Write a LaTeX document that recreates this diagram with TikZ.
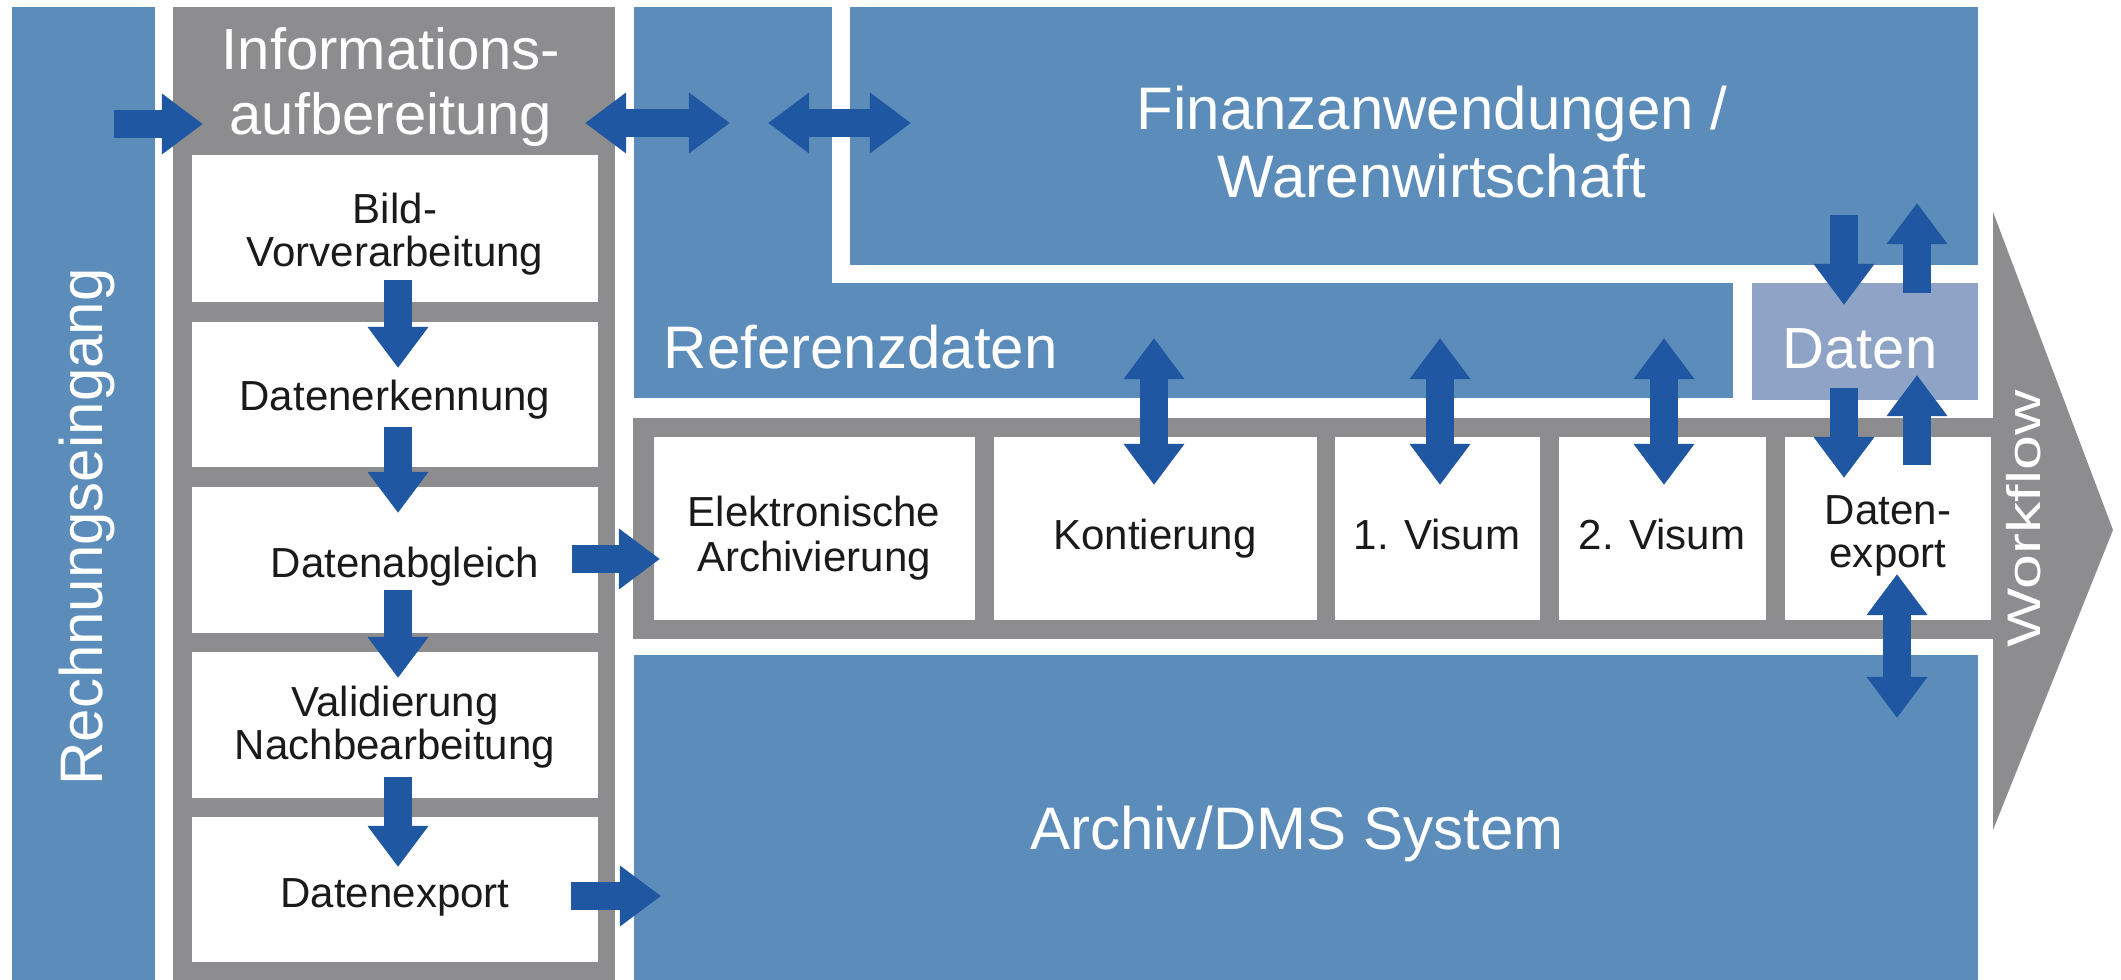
\documentclass[tikz,border=0pt]{standalone}
\usepackage{fontspec}
\setmainfont{Liberation Sans}
\usetikzlibrary{arrows.meta}
\definecolor{panelblue}{HTML}{5B8CBA}
\definecolor{arrowblue}{HTML}{1F57A3}
\definecolor{flowgray}{HTML}{8D8D8F}
\definecolor{datenfill}{HTML}{8EA3C5}
\definecolor{labeltext}{HTML}{1A1A1A}
\begin{document}
\begin{tikzpicture}[x=0.01cm,y=-0.01cm,
  panel/.style={fill=panelblue, inner sep=0, outer sep=0},
  grayarea/.style={fill=flowgray, inner sep=0, outer sep=0},
  whitebox/.style={fill=white, inner sep=0, outer sep=0},
  titletext/.style={text=white, inner sep=0, font=\fontsize{17.07}{18.2}\selectfont},
  boxtext/.style={text=labeltext, inner sep=0, font=\fontsize{11.95}{12.3}\selectfont},
  blockarrow/.style={draw=arrowblue, line width=0.28cm, -{Triangle[width=0.58cm,length=0.41cm]}},
  dblarrow/.style={draw=arrowblue, line width=0.28cm, {Triangle[width=0.58cm,length=0.41cm]}-{Triangle[width=0.58cm,length=0.41cm]}}
]
\useasboundingbox (0,0) rectangle (2121,980);

% ---- left bar: Rechnungseingang
\node[panel, minimum width=1.43cm, minimum height=9.73cm] (rbar) at (83.5,493.5) {};
\node[titletext, rotate=90, anchor=base] (trbar) at (102,527) {Rechnungseingang};

% ---- gray column: Informationsaufbereitung
\node[grayarea, minimum width=4.42cm, minimum height=9.73cm] (col) at (394,493.5) {};
\node[titletext, align=center, font=\fontsize{16.5}{18.5}\selectfont] (thead) at (391,87) {Informations-\\aufbereitung};

\node[whitebox, minimum width=4.06cm, minimum height=1.47cm] (b1) at (395,228.5) {};
\node[whitebox, minimum width=4.06cm, minimum height=1.45cm] (b2) at (395,394.5) {};
\node[whitebox, minimum width=4.06cm, minimum height=1.46cm] (b3) at (395,560) {};
\node[whitebox, minimum width=4.06cm, minimum height=1.46cm] (b4) at (395,725) {};
\node[whitebox, minimum width=4.06cm, minimum height=1.45cm] (b5) at (395,889.5) {};

\node[boxtext, align=center] (l1) at (395,234) {Bild-\\Vorverarbeitung};
\node[boxtext, anchor=base] (l2) at (395,411) {Datenerkennung};
\node[boxtext, anchor=base] (l3) at (405,578) {Datenabgleich};
\node[boxtext, align=center] (l4) at (395,727.5) {Validierung\\Nachbearbeitung};
\node[boxtext, anchor=base] (l5) at (395,908) {Datenexport};

% ---- Referenzdaten / Finanzanwendungen / Daten
\node[panel, minimum width=10.99cm, minimum height=3.91cm] (ref) at (1183.5,202.5) {};
\node[panel, draw=white, line width=0.18cm, minimum width=11.46cm, minimum height=2.76cm] (fin) at (1414,136) {};
\node[titletext, align=center, font=\fontsize{17.07}{19.3}\selectfont] (tfin) at (1432,142) {Finanzanwendungen /\\Warenwirtschaft};
\node[titletext, anchor=base west] (tref) at (663,369) {Referenzdaten};
\node[fill=datenfill, inner sep=0, outer sep=0, minimum width=2.26cm, minimum height=1.17cm] (daten) at (1865,341.5) {};
\node[titletext, anchor=base, font=\fontsize{16.5}{16.5}\selectfont] (tdaten) at (1860,369) {Daten};

% ---- workflow band and arrow
\node[grayarea, minimum width=13.62cm, minimum height=2.21cm] (band) at (1314,528.5) {};
\fill[flowgray] (1993,212) -- (2113,530) -- (1993,830) -- cycle;
\node[rotate=90, anchor=base, text=white, inner sep=0, font=\fontsize{13.4}{13.4}\selectfont] (tflow) at (2040,519) {\scalebox{1.33}[1]{Workflow}};

\node[whitebox, minimum width=3.21cm, minimum height=1.83cm] (w1) at (814.5,528.5) {};
\node[whitebox, minimum width=3.23cm, minimum height=1.83cm] (w2) at (1155.5,528.5) {};
\node[whitebox, minimum width=2.05cm, minimum height=1.83cm] (w3) at (1437.5,528.5) {};
\node[whitebox, minimum width=2.07cm, minimum height=1.83cm] (w4) at (1662.5,528.5) {};
\node[whitebox, minimum width=2.06cm, minimum height=1.83cm] (w5) at (1888,528.5) {};

\node[boxtext, align=center, font=\fontsize{11.95}{13}\selectfont] (lw1) at (814,538) {Elektronische\\Archivierung};
\node[boxtext, anchor=base] (lw2) at (1155,550) {Kontierung};
\node[boxtext, anchor=base] (lw3) at (1437,550) {1. Visum};
\node[boxtext, anchor=base] (lw4) at (1662,550) {2. Visum};
\node[boxtext, align=center] (lw5) at (1888,536) {Daten-\\export};

% ---- Archiv/DMS
\node[panel, minimum width=13.44cm, minimum height=3.25cm] (arch) at (1306,817.5) {};
\node[titletext, anchor=base] (tarch) at (1297,850) {Archiv/DMS System};

% ---- arrow end points
\coordinate (inS) at (114,124);   \coordinate (inE) at (203,124);
\coordinate (d1S) at (398,280);   \coordinate (d1E) at (398,368);
\coordinate (d2S) at (398,427);   \coordinate (d2E) at (398,513);
\coordinate (d3S) at (398,590);   \coordinate (d3E) at (398,678);
\coordinate (d4S) at (398,777);   \coordinate (d4E) at (398,867);
\coordinate (abS) at (572,559);   \coordinate (abE) at (660,559);
\coordinate (exS) at (571,896);   \coordinate (exE) at (661,896);
\coordinate (t1A) at (585,123);   \coordinate (t1B) at (730,123);
\coordinate (t2A) at (768,123);   \coordinate (t2B) at (911,123);
\coordinate (kA) at (1154,338);   \coordinate (kB) at (1154,485);
\coordinate (v1A) at (1440,338);  \coordinate (v1B) at (1440,485);
\coordinate (v2A) at (1664,338);  \coordinate (v2B) at (1664,485);
\coordinate (fdS) at (1844,215);  \coordinate (fdE) at (1844,305);
\coordinate (fuS) at (1917,293);  \coordinate (fuE) at (1917,203);
\coordinate (ddS) at (1844,388);  \coordinate (ddE) at (1844,478);
\coordinate (duS) at (1917,465);  \coordinate (duE) at (1917,375);
\coordinate (xA) at (1897,574);   \coordinate (xB) at (1897,718);

\draw[blockarrow] (inS) -- (inE);
\draw[blockarrow] (d1S) -- (d1E);
\draw[blockarrow] (d2S) -- (d2E);
\draw[blockarrow] (d3S) -- (d3E);
\draw[blockarrow] (d4S) -- (d4E);
\draw[blockarrow] (abS) -- (abE);
\draw[blockarrow] (exS) -- (exE);
\draw[dblarrow] (t1A) -- (t1B);
\draw[dblarrow] (t2A) -- (t2B);
\draw[dblarrow] (kA) -- (kB);
\draw[dblarrow] (v1A) -- (v1B);
\draw[dblarrow] (v2A) -- (v2B);
\draw[blockarrow] (fdS) -- (fdE);
\draw[blockarrow] (fuS) -- (fuE);
\draw[blockarrow] (ddS) -- (ddE);
\draw[blockarrow] (duS) -- (duE);
\draw[dblarrow] (xA) -- (xB);
\end{tikzpicture}
\end{document}
